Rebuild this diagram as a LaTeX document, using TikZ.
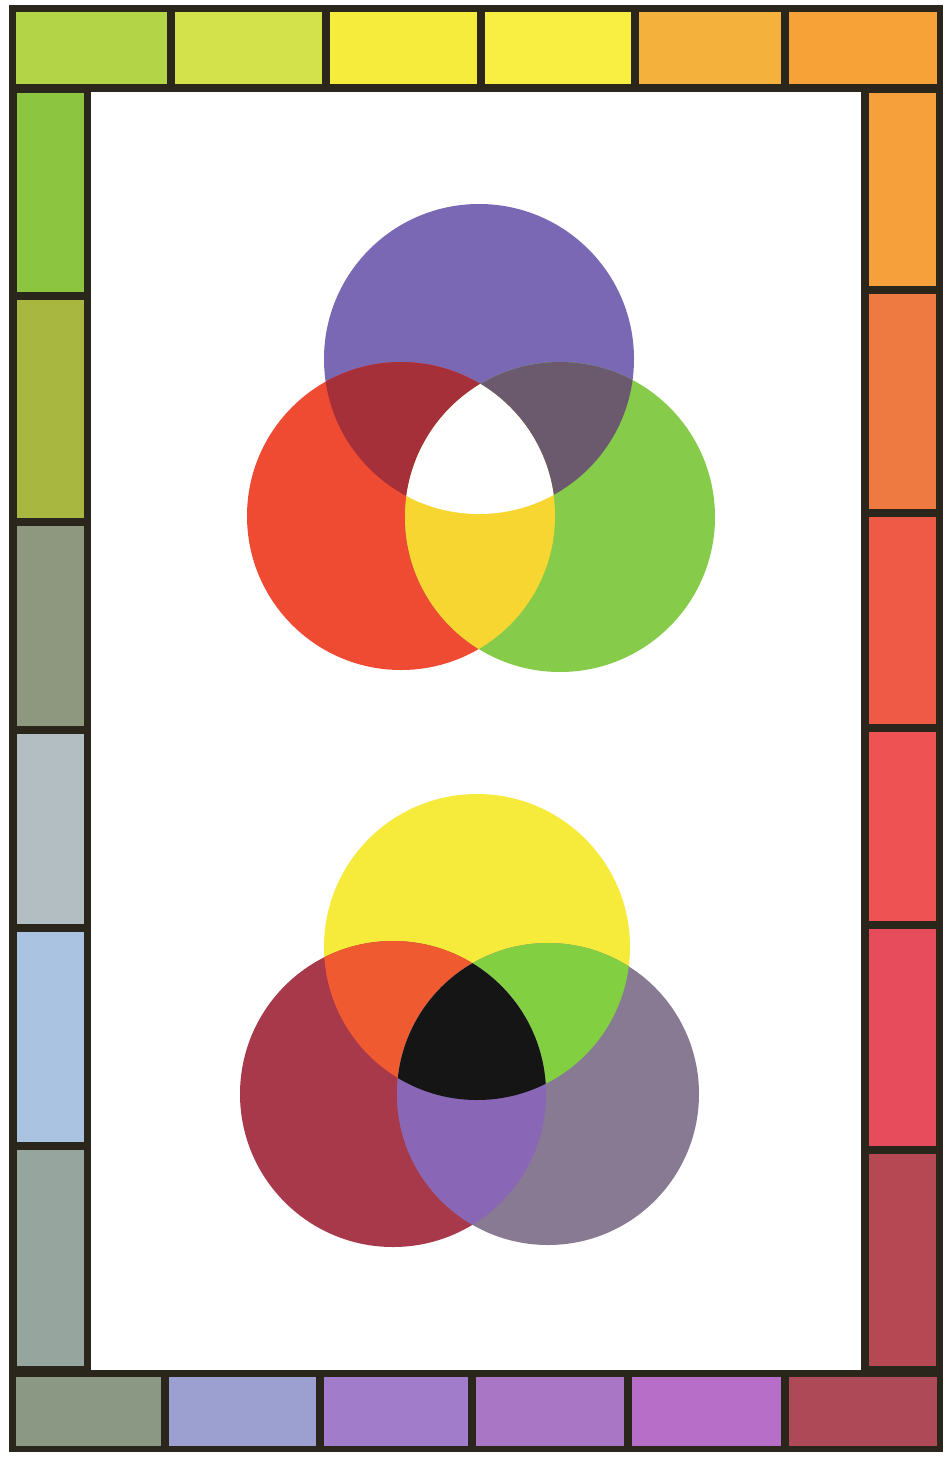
\documentclass[tikz,border=0pt]{standalone}
\usetikzlibrary{calc}
\definecolor{frameline}{HTML}{2B261C}
% top row
\definecolor{tA}{HTML}{B2D446}\definecolor{tB}{HTML}{D3E24B}\definecolor{tC}{HTML}{F6EC3C}
\definecolor{tD}{HTML}{F8EF42}\definecolor{tE}{HTML}{F4B23C}\definecolor{tF}{HTML}{F6A236}
% left column
\definecolor{lA}{HTML}{8CC640}\definecolor{lB}{HTML}{A7B740}\definecolor{lC}{HTML}{8E987E}
\definecolor{lD}{HTML}{B3BEC2}\definecolor{lE}{HTML}{A9C3E0}\definecolor{lF}{HTML}{97A59F}
% right column
\definecolor{rA}{HTML}{F5A03A}\definecolor{rB}{HTML}{EE7A42}\definecolor{rC}{HTML}{EE5A46}
\definecolor{rD}{HTML}{EE5252}\definecolor{rE}{HTML}{E64C5C}\definecolor{rF}{HTML}{B54852}
% bottom row
\definecolor{bA}{HTML}{8B9884}\definecolor{bB}{HTML}{9BA0D0}\definecolor{bC}{HTML}{A07CCB}
\definecolor{bD}{HTML}{A876C4}\definecolor{bE}{HTML}{B66EC8}\definecolor{bF}{HTML}{AE4A58}
% top diagram
\definecolor{cPurple}{HTML}{7B68B5}\definecolor{cRed}{HTML}{EF4B33}\definecolor{cGreen}{HTML}{86CC4A}
\definecolor{cRP}{HTML}{A5303A}\definecolor{cGP}{HTML}{6B5A6E}\definecolor{cRG}{HTML}{F8D632}
% bottom diagram
\definecolor{cYel}{HTML}{F6EA3A}\definecolor{cMar}{HTML}{A7394A}\definecolor{cGrey}{HTML}{887A92}
\definecolor{cYM}{HTML}{F05A30}\definecolor{cYG}{HTML}{82D042}\definecolor{cMG}{HTML}{8A66B6}
\definecolor{cAll}{HTML}{151515}
\newcommand\ptile[5]{\fill[#1] (#2,#3) rectangle (#4,#5);}
\begin{document}
\begin{tikzpicture}[x=0.5pt,y=-0.5pt]
\useasboundingbox (0,0) rectangle (948,1457);
\fill[white] (0,0) rectangle (948,1457);
% frame
\fill[frameline] (9,5) rectangle (943,1452);
\fill[white] (91,92) rectangle (861,1370);
% top row
\ptile{tA}{16}{12}{167}{84}
\ptile{tB}{175}{12}{322}{84}
\ptile{tC}{330}{12}{477}{84}
\ptile{tD}{485}{12}{631}{84}
\ptile{tE}{639}{12}{781}{84}
\ptile{tF}{789}{12}{937}{84}
% left column
\ptile{lA}{17}{93}{84}{292}
\ptile{lB}{17}{300}{84}{518}
\ptile{lC}{17}{526}{84}{726}
\ptile{lD}{17}{734}{84}{924}
\ptile{lE}{17}{932}{84}{1142}
\ptile{lF}{17}{1150}{84}{1366}
% right column
\ptile{rA}{869}{93}{936}{286}
\ptile{rB}{869}{294}{936}{509}
\ptile{rC}{869}{517}{936}{724}
\ptile{rD}{869}{732}{936}{921}
\ptile{rE}{869}{929}{936}{1146}
\ptile{rF}{869}{1154}{936}{1366}
% bottom row
\ptile{bA}{16}{1377}{161}{1446}
\ptile{bB}{169}{1377}{316}{1446}
\ptile{bC}{324}{1377}{468}{1446}
\ptile{bD}{476}{1377}{624}{1446}
\ptile{bE}{632}{1377}{781}{1446}
\ptile{bF}{789}{1377}{937}{1446}
% ---- top diagram (additive)
\def\CP{(479,359) circle [radius=155]}
\def\CR{(401,516) circle [radius=154]}
\def\CG{(560,517) circle [radius=155]}
\fill[cPurple] \CP;
\fill[cRed] \CR;
\fill[cGreen] \CG;
\begin{scope}\clip \CR; \fill[cRP] \CP; \end{scope}
\begin{scope}\clip \CG; \fill[cGP] \CP; \end{scope}
\begin{scope}\clip \CR; \fill[cRG] \CG; \end{scope}
\begin{scope}\clip \CR; \clip \CG; \fill[white] \CP; \end{scope}
% ---- bottom diagram (subtractive)
\def\CY{(477,947) circle [radius=153]}
\def\CM{(393,1094) circle [radius=153]}
\def\CB{(548,1094) circle [radius=151]}
\fill[cYel] \CY;
\fill[cMar] \CM;
\fill[cGrey] \CB;
\begin{scope}\clip \CM; \fill[cYM] \CY; \end{scope}
\begin{scope}\clip \CB; \fill[cYG] \CY; \end{scope}
\begin{scope}\clip \CM; \fill[cMG] \CB; \end{scope}
\begin{scope}\clip \CM; \clip \CB; \fill[cAll] \CY; \end{scope}
\end{tikzpicture}
\end{document}
